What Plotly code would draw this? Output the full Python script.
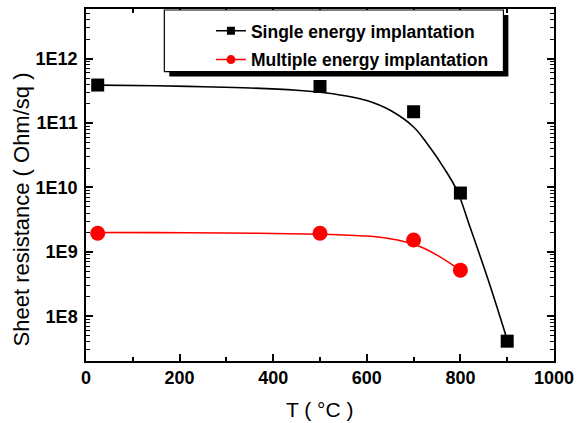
import plotly.graph_objects as go

# ---- data ----
temp_single = [25, 500, 700, 800, 900]
res_single = [3.9e11, 3.7e11, 1.5e11, 8.2e9, 4.1e7]

temp_multi = [25, 500, 700, 800]
res_multi = [1.95e9, 1.95e9, 1.53e9, 5.2e8]

# fitted curves
fit_single_t = [25, 150, 250, 350, 450, 500, 550, 600, 650, 700, 730, 765, 793, 820, 860, 898]
fit_single_r = [3.89e11, 3.80e11, 3.67e11, 3.51e11, 3.24e11, 3.02e11, 2.69e11, 2.24e11,
                1.58e11, 8.7e10, 4.68e10, 2.0e10, 8.9e9, 2.5e9, 3.55e8, 4.8e7]

fit_multi_t = [24, 150, 300, 400, 500, 550, 600, 650, 700, 750, 800]
fit_multi_r = [2.0e9, 1.99e9, 1.96e9, 1.93e9, 1.88e9, 1.83e9, 1.76e9, 1.60e9, 1.32e9, 8.9e8, 5.16e8]

y_tickvals = [1e8, 1e9, 1e10, 1e11, 1e12]
y_ticktext = ["1E8", "1E9", "1E10", "1E11", "1E12"]
x_tickvals = [0, 200, 400, 600, 800, 1000]

name_single = "Single energy implantation"
name_multi = "Multiple energy implantation"

FONT = "Liberation Sans, Arial, sans-serif"

fig = go.Figure()

# fit curves
fig.add_trace(go.Scatter(x=fit_single_t, y=fit_single_r, mode="lines",
                         line=dict(color="black", width=1.6, shape="spline", smoothing=1.0),
                         showlegend=False, hoverinfo="skip"))
fig.add_trace(go.Scatter(x=fit_multi_t, y=fit_multi_r, mode="lines",
                         line=dict(color="red", width=1.6, shape="spline", smoothing=1.0),
                         showlegend=False, hoverinfo="skip"))
# data points
fig.add_trace(go.Scatter(x=temp_single, y=res_single, mode="markers",
                         marker=dict(symbol="square", size=13, color="black"),
                         showlegend=False))
fig.add_trace(go.Scatter(x=temp_multi, y=res_multi, mode="markers",
                         marker=dict(symbol="circle", size=15, color="red"),
                         showlegend=False))
# legend entries
fig.add_trace(go.Scatter(x=[None], y=[None], mode="lines+markers", name=name_single,
                         line=dict(color="black", width=1.5),
                         marker=dict(symbol="square", size=8, color="black"),
                         legend="legend"))
fig.add_trace(go.Scatter(x=[None], y=[None], mode="lines+markers", name=name_multi,
                         line=dict(color="red", width=1.5),
                         marker=dict(symbol="circle", size=9, color="red"),
                         legend="legend2"))

W, H = 581, 423
ML, MR, MT, MB = 86, 23, 7, 62
PW, PH = W - ML - MR, H - MT - MB


def px2paper_x(px):
    return (px - ML) / PW


def px2paper_y(py):
    return (H - MB - py) / PH


axis_common = dict(showline=True, linecolor="black", linewidth=1.5, mirror="allticks",
                   ticks="inside", tickcolor="black", tickwidth=1.5, ticklen=7,
                   showgrid=False, zeroline=False,
                   tickfont=dict(family=FONT, size=18, color="black", weight="bold"))

legend_font = dict(family=FONT, size=17.5, color="black", weight="bold")

fig.update_layout(
    width=W, height=H,
    margin=dict(l=ML, r=MR, t=MT, b=MB),
    paper_bgcolor="white", plot_bgcolor="white",
    xaxis=dict(range=[0, 1000], tickvals=x_tickvals,
               minor=dict(ticks="inside", ticklen=4, tickcolor="black", tickwidth=1.5, dtick=100),
               **axis_common),
    yaxis=dict(type="log", range=[7.305, 12.772], tickvals=y_tickvals, ticktext=y_ticktext,
               ticklabelstandoff=3,
               minor=dict(ticks="inside", ticklen=4, tickcolor="black", tickwidth=1.2, dtick="D1"),
               **axis_common),
    legend=dict(x=px2paper_x(212), y=px2paper_y(29), xanchor="left", yanchor="middle",
                bgcolor="rgba(0,0,0,0)", borderwidth=0, font=legend_font),
    legend2=dict(x=px2paper_x(212), y=px2paper_y(58), xanchor="left", yanchor="middle",
                 bgcolor="rgba(0,0,0,0)", borderwidth=0, font=legend_font),
    shapes=[
        dict(type="rect", xref="paper", yref="paper", layer="above",
             x0=px2paper_x(170), x1=px2paper_x(512), y0=px2paper_y(75), y1=px2paper_y(13),
             fillcolor="black", line=dict(width=0)),
        dict(type="rect", xref="paper", yref="paper", layer="above",
             x0=px2paper_x(165), x1=px2paper_x(507), y0=px2paper_y(70), y1=px2paper_y(8),
             fillcolor="white", line=dict(color="black", width=1.2)),
    ],
    annotations=[
        dict(text="T ( °C )", xref="paper", yref="paper", x=px2paper_x(321.5), y=px2paper_y(410),
             xanchor="center", yanchor="middle", showarrow=False,
             font=dict(family=FONT, size=21, color="black")),
        dict(text="Sheet resistance ( Ohm/sq )", xref="paper", yref="paper",
             x=px2paper_x(21), y=px2paper_y(209), textangle=-90,
             xanchor="center", yanchor="middle", showarrow=False,
             font=dict(family=FONT, size=22, color="black")),
    ],
)

fig.write_html("out.html", config={"displayModeBar": False},
               post_script="document.body.style.margin='0px';")
